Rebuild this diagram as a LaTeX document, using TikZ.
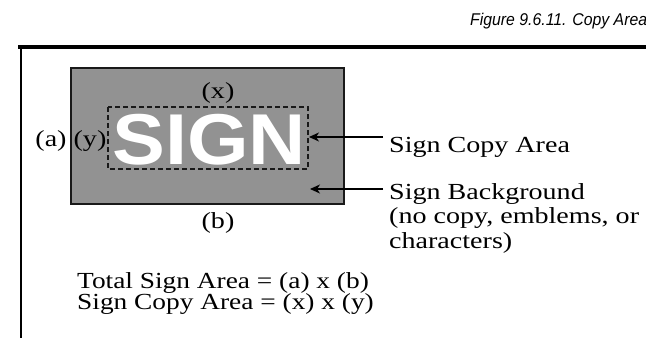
\documentclass[tikz,border=0pt]{standalone}
\usepackage{fontspec}
\setmainfont{Liberation Serif}
\newfontfamily\wserif[FakeStretch=1.22]{Liberation Serif}
\newfontfamily\bserif[FakeStretch=1.19]{Liberation Serif}
\newfontfamily\capfont[FakeStretch=0.93]{Liberation Sans}
\newfontfamily\signfont[FakeStretch=1.1]{Liberation Sans}
\usetikzlibrary{arrows.meta}
\definecolor{signgray}{RGB}{146,146,146}
\definecolor{edgegray}{RGB}{25,25,25}
\tikzset{
  lbl/.style={inner sep=0pt, font=\wserif\fontsize{23}{24.5}\selectfont, align=left},
  botlbl/.style={inner sep=0pt, font=\bserif\fontsize{23}{21}\selectfont, align=left},
  pointer/.style={line width=1.2pt, -{Stealth[length=10pt,width=9pt,inset=3pt]}},
}
\begin{document}
\begin{tikzpicture}[x=1pt,y=-1pt]
\useasboundingbox (0,0) rectangle (646,338);
\clip (0,0) rectangle (646,338);
% caption
\node[anchor=base west, inner sep=0pt, font=\capfont\itshape\fontsize{17}{20}\selectfont] (cap) at (470,25) {Figure 9.6.11. Copy Area};
% frame lines
\draw[line width=4pt] (18,47) -- (646,47);
\draw[line width=2.5pt] (21,45) -- (21,338);
% sign
\draw[fill=signgray, draw=edgegray, line width=2pt] (71,68) rectangle (344,204);
\node[inner sep=0pt, text=white, font=\signfont\bfseries\fontsize{72}{72}\selectfont, anchor=base] (sign) at (209,164) {SIGN};
\draw[dashed, dash pattern=on 5pt off 3pt, line width=1.5pt, draw=edgegray] (108,107) rectangle (308,169);
\coordinate (copyedge) at (309,137);
\coordinate (bgpt) at (310,189);
% dimension labels
\node[lbl, anchor=base] (x) at (218,98) {(x)};
\node[lbl, anchor=base] (a) at (51,146) {(a)};
\node[lbl, anchor=base] (y) at (90,146) {(y)};
\node[lbl, anchor=base] (b) at (218,228) {(b)};
% callouts
\node[lbl, anchor=base west] (copy) at (389,152) {Sign Copy Area};
\node[lbl, anchor=north west] (bg) at (389,183) {Sign Background\\(no copy, emblems, or\\characters)};
\coordinate (c1) at (383,137);
\coordinate (c2) at (383,189);
\draw[pointer] (c1) -- (copyedge);
\draw[pointer] (c2) -- (bgpt);
% formulas
\node[botlbl, anchor=north west] (f) at (77,272) {Total Sign Area = (a) x (b)\\Sign Copy Area = (x) x (y)};
\end{tikzpicture}
\end{document}
